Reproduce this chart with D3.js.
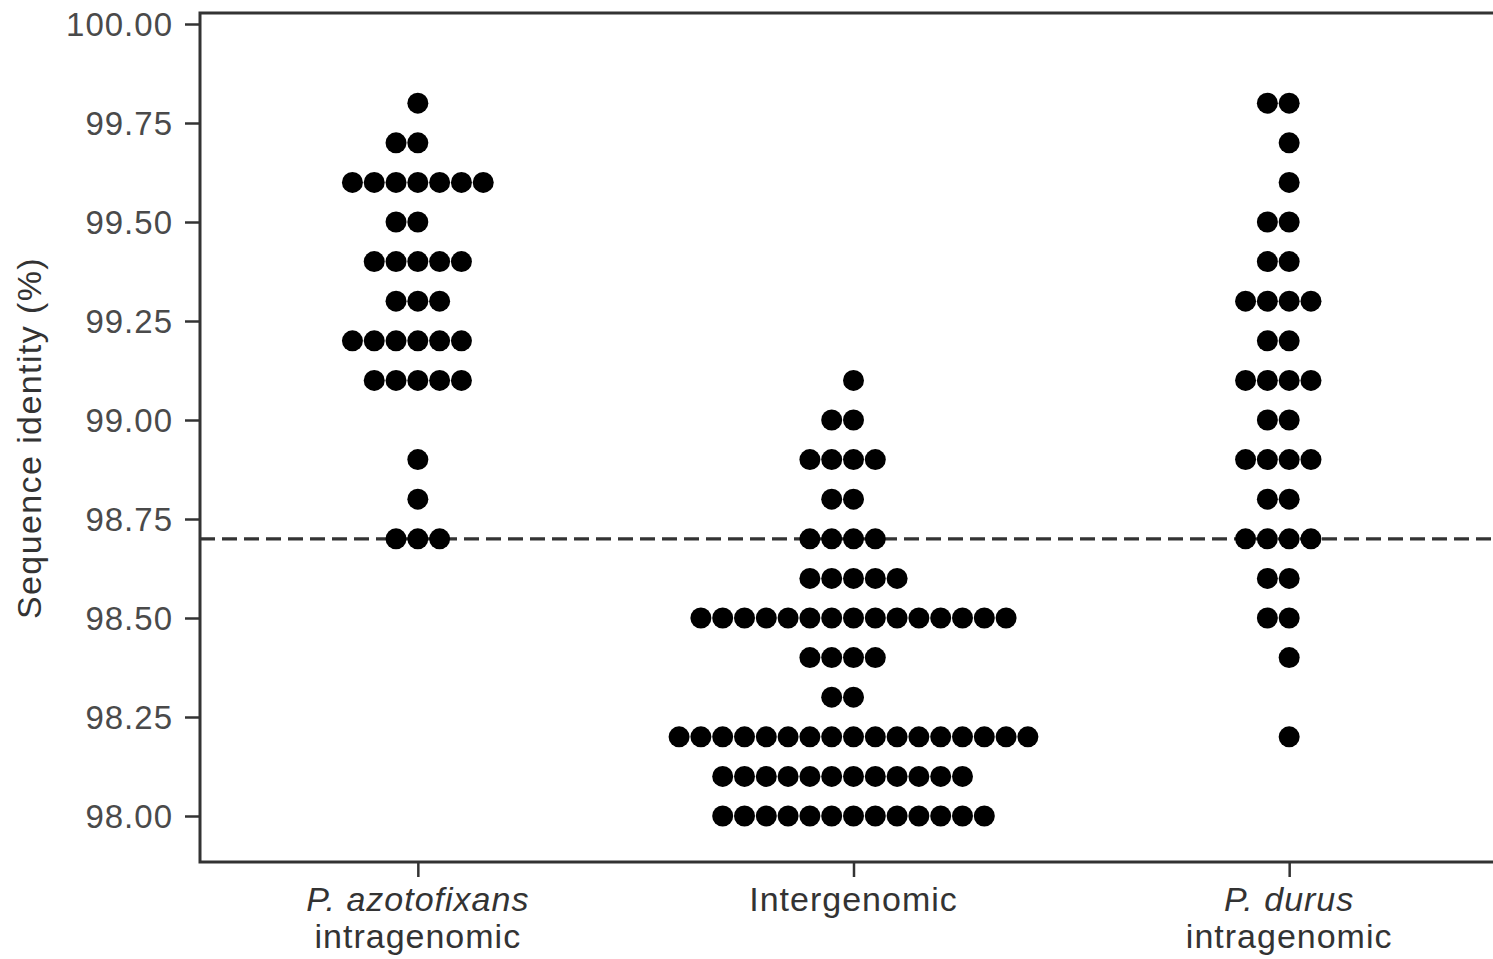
<!DOCTYPE html>
<html>
<head>
<meta charset="utf-8">
<script src="https://cdn.jsdelivr.net/npm/d3@7"></script>
<style>
  html, body { margin: 0; padding: 0; background: #ffffff; }
  svg { display: block; font-family: "Liberation Sans", Arial, Helvetica, sans-serif; }
</style>
</head>
<body>
<svg id="chart" width="1493" height="959"></svg>
<script>
// Identity levels (%) at which dots are stacked
const identityLevels = [98.0, 98.1, 98.2, 98.3, 98.4, 98.5, 98.6, 98.7, 98.8, 98.9,
                        99.0, 99.1, 99.2, 99.3, 99.4, 99.5, 99.6, 99.7, 99.8];

// Number of 16S rRNA gene pairs observed at each level, per comparison group
const azotofixansCounts = [0, 0, 0, 0, 0, 0, 0, 3, 1, 1, 0, 5, 6, 3, 5, 2, 7, 2, 1];
const intergenomicCounts = [13, 12, 17, 2, 4, 15, 5, 4, 2, 4, 2, 1, 0, 0, 0, 0, 0, 0, 0];
const durusCounts = [0, 0, 1, 0, 1, 2, 2, 4, 2, 4, 2, 4, 2, 4, 2, 2, 1, 1, 2];

// Categories along the x axis and their (multi-line) labels
const categories = ["azotofixans", "intergenomic", "durus"];
const categoryLabels = [
  [{ text: "P. azotofixans", italic: true }, { text: "intragenomic", italic: false }],
  [{ text: "Intergenomic", italic: false }],
  [{ text: "P. durus", italic: true }, { text: "intragenomic", italic: false }]
];
const groupCounts = [azotofixansCounts, intergenomicCounts, durusCounts];

// Y axis ticks and the species-delineation threshold
const yTicks = [98.00, 98.25, 98.50, 98.75, 99.00, 99.25, 99.50, 99.75, 100.00];
const threshold = 98.7;
const yTitle = "Sequence identity (%)";

// ---- layout ----
const svg = d3.select("#chart");
const panel = { left: 200, right: 1507, top: 13, bottom: 862 };

const y = d3.scaleLinear().domain([98, 100]).range([816, 24]);
const x = d3.scalePoint().domain(categories).range([panel.left, panel.right]).padding(0.5);

const dotR = 10.5;
const dotStep = 21.8;

// expand counts into individual dot records (stacked "centerwhole")
const dots = [];
categories.forEach((cat, gi) => {
  groupCounts[gi].forEach((n, li) => {
    const start = -Math.floor(n / 2);
    for (let k = 0; k < n; k++) {
      dots.push({ cat, value: identityLevels[li], offset: start + k });
    }
  });
});

// threshold line (drawn beneath the dots)
svg.append("line")
  .attr("x1", panel.left).attr("x2", panel.right)
  .attr("y1", y(threshold)).attr("y2", y(threshold))
  .attr("stroke", "#333")
  .attr("stroke-width", 3.2)
  .attr("stroke-dasharray", "15,7");

// dots
svg.append("g")
  .selectAll("circle")
  .data(dots)
  .join("circle")
  .attr("cx", d => x(d.cat) + d.offset * dotStep)
  .attr("cy", d => y(d.value))
  .attr("r", dotR)
  .attr("fill", "#000");

// panel border
svg.append("rect")
  .attr("x", panel.left).attr("y", panel.top)
  .attr("width", panel.right - panel.left)
  .attr("height", panel.bottom - panel.top)
  .attr("fill", "none")
  .attr("stroke", "#333")
  .attr("stroke-width", 3);

// y axis
const yAxis = svg.append("g")
  .attr("transform", `translate(${panel.left},0)`)
  .call(d3.axisLeft(y).tickValues(yTicks).tickFormat(d3.format(".2f")).tickSize(15).tickPadding(12));
yAxis.select(".domain").remove();
yAxis.selectAll(".tick line").attr("stroke", "#333").attr("stroke-width", 2.5);
yAxis.selectAll(".tick text")
  .attr("fill", "#4a4a4a")
  .style("font-size", "33px")
  .style("letter-spacing", "1px")
  .attr("dy", "0.36em");

// x axis
const xAxis = svg.append("g")
  .attr("transform", `translate(0,${panel.bottom})`)
  .call(d3.axisBottom(x).tickSize(15).tickFormat(""));
xAxis.select(".domain").remove();
xAxis.selectAll(".tick line").attr("stroke", "#333").attr("stroke-width", 2.5);

categories.forEach((cat, i) => {
  const t = svg.append("text")
    .attr("x", x(cat))
    .attr("y", 911)
    .attr("text-anchor", "middle")
    .attr("fill", "#333")
    .style("font-size", "34px")
    .style("letter-spacing", "1px");
  categoryLabels[i].forEach((line, j) => {
    t.append("tspan")
      .attr("x", x(cat))
      .attr("dy", j === 0 ? 0 : 37)
      .style("font-style", line.italic ? "italic" : "normal")
      .text(line.text);
  });
});

// y axis title
svg.append("text")
  .attr("transform", `translate(41,438) rotate(-90)`)
  .attr("text-anchor", "middle")
  .attr("fill", "#333")
  .style("font-size", "34px")
  .style("letter-spacing", "1.4px")
  .text(yTitle);
</script>
</body>
</html>
